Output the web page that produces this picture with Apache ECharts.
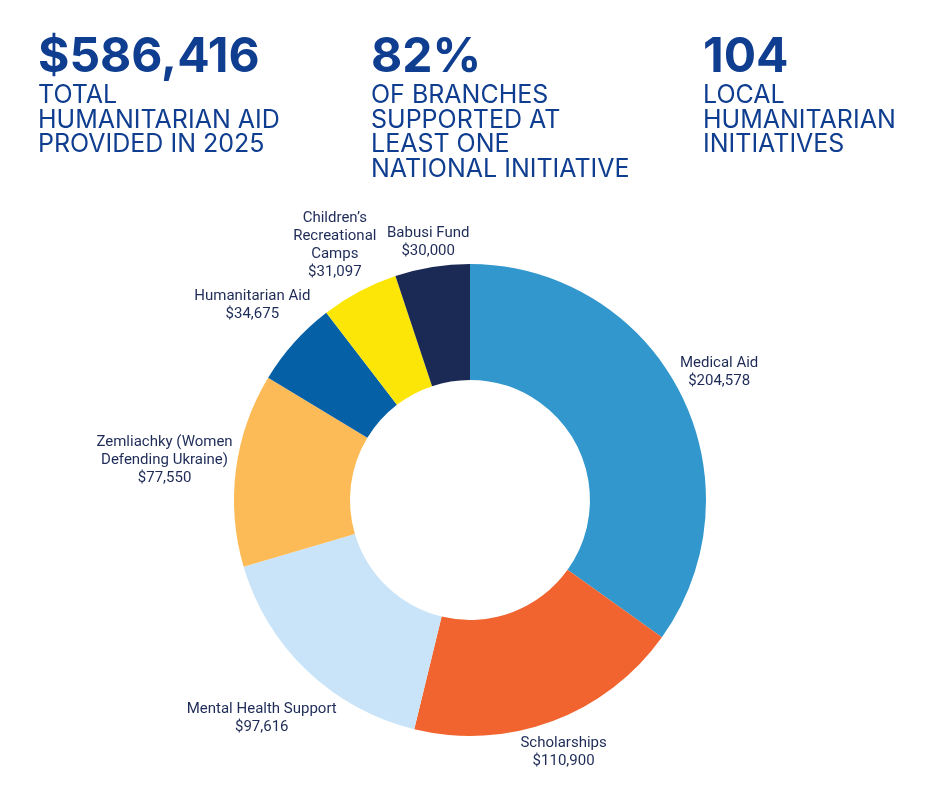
<!DOCTYPE html>
<html>
<head>
<meta charset="utf-8">
<script src="https://cdn.jsdelivr.net/npm/echarts@6/dist/echarts.min.js"></script>
<style>
  html, body { margin: 0; padding: 0; background: #fff; }
  #chart { width: 940px; height: 788px; }
</style>
</head>
<body>
<div id="chart"></div>
<script>
var categories = [
  'Medical Aid',
  'Scholarships',
  'Mental Health Support',
  'Zemliachky (Women\nDefending Ukraine)',
  'Humanitarian Aid',
  'Children\u2019s\nRecreational\nCamps',
  'Babusi Fund'
];
var values = [204578, 110900, 97616, 77550, 34675, 31097, 30000];
var colors = ['#3197cc', '#f1642f', '#c9e4f8', '#fdbb58', '#0660a6', '#fbe608', '#1b2a54'];

var statNumbers = ['$586,416', '82%', '104'];
var statTexts = [
  'TOTAL\nHUMANITARIAN AID\nPROVIDED IN 2025',
  'OF BRANCHES\nSUPPORTED AT\nLEAST ONE\nNATIONAL INITIATIVE',
  'LOCAL\nHUMANITARIAN\nINITIATIVES'
];

var total = values.reduce(function (a, b) { return a + b; }, 0);
var cum = [];
values.reduce(function (acc, v, i) { cum[i] = acc; return acc + v; }, 0);

var cx = 470, cy = 500, rIn = 120, rOut = 236, gap = 1;
var statX = [38, 371, 703];
var navy = '#0f3d8f';

var graphics = [];
statNumbers.forEach(function (s, i) {
  graphics.push({
    type: 'text', left: statX[i], top: 34,
    style: { text: s, fill: navy, font: '700 48px Inter' }
  });
  graphics.push({
    type: 'text', left: statX[i], top: 83,
    style: { text: statTexts[i], fill: navy, font: '400 25px Inter', lineHeight: 24.5 }
  });
});

var chart = echarts.init(document.getElementById('chart'));
chart.setOption({
  backgroundColor: '#ffffff',
  animation: false,
  graphic: graphics,
  series: [{
    type: 'pie',
    center: [cx, cy],
    radius: [rIn, rOut],
    startAngle: 90,
    clockwise: true,
    avoidLabelOverlap: false,
    color: colors,
    itemStyle: { borderWidth: 0 },
    label: {
      show: true,
      position: 'outside',
      color: '#1e2b57',
      fontFamily: 'Roboto',
      fontSize: 15,
      lineHeight: 18,
      formatter: function (p) {
        return p.name + '\n$' + p.value.toLocaleString('en-US');
      }
    },
    labelLine: { show: false },
    // centre each label on the slice's mid ray, just clear of the ring
    labelLayout: function (p) {
      var i = p.dataIndex;
      var mid = (cum[i] + values[i] / 2) / total * 2 * Math.PI;
      var ux = Math.sin(mid), uy = -Math.cos(mid);
      var w = p.labelRect.width, h = p.labelRect.height;
      var d = rOut + gap + Math.abs(ux) * w / 2 + Math.abs(uy) * h / 2;
      return {
        x: cx + ux * d,
        y: cy + uy * d,
        align: 'center',
        verticalAlign: 'middle'
      };
    },
    emphasis: { disabled: true },
    data: categories.map(function (c, i) { return { name: c, value: values[i] }; })
  }]
});
</script>
</body>
</html>
